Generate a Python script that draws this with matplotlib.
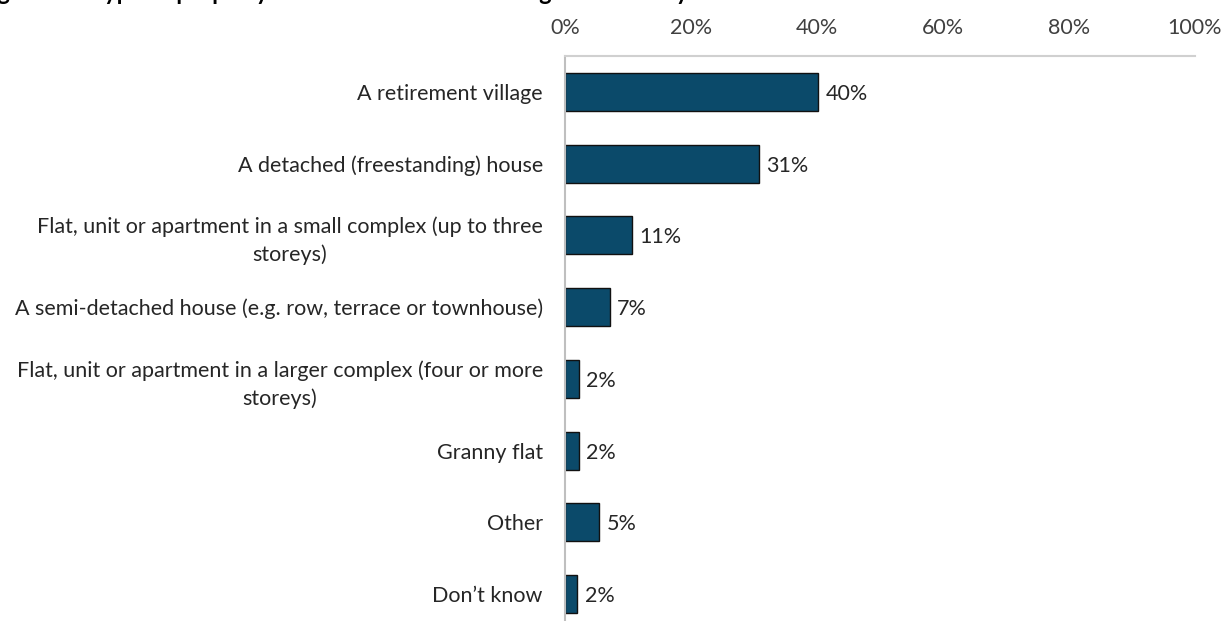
import numpy as np
import matplotlib
matplotlib.use("Agg")
import matplotlib.pyplot as plt

# survey categories (top to bottom) and share of respondents (%)
categories = [
    "A retirement village",
    "A detached (freestanding) house",
    "Flat, unit or apartment in a small complex (up to three\nstoreys)",
    "A semi-detached house (e.g. row, terrace or townhouse)",
    "Flat, unit or apartment in a larger complex (four or more\nstoreys)",
    "Granny flat",
    "Other",
    "Don\u2019t know",
]
values = [40.2, 30.8, 10.6, 7.1, 2.2, 2.2, 5.4, 1.9]
value_labels = ["40%", "31%", "11%", "7%", "2%", "2%", "5%", "2%"]
x_ticks = [0, 20, 40, 60, 80, 100]
x_tick_labels = ["0%", "20%", "40%", "60%", "80%", "100%"]
title = "Figure 10: Type of property most considered if moving in the next year"

plt.rcParams["font.family"] = ["Lato", "DejaVu Sans"]

W, H = 1223, 621
fig = plt.figure(figsize=(W / 100, H / 100), dpi=100)

# axes box in pixel terms: 0% at x=565, 100% at x=1195, top line at y=56
left, right, top, bottom = 565, 1195, 56, 630
ax = fig.add_axes([left / W, (H - bottom) / H, (right - left) / W, (bottom - top) / H])

y = np.arange(len(categories))
ax.barh(y, values, height=0.53, color="#0B4A6A", edgecolor="#111111", linewidth=1)

for yi, v, lab in zip(y, values, value_labels):
    ax.text(v + 1.2, yi, lab, va="center_baseline", ha="left", fontsize=15.5, color="#262626")

ax.set_xlim(0, 100)
ax.set_ylim(len(categories) - 0.5, -0.5)
ax.set_yticks(y)
ax.set_yticklabels(categories, fontsize=15.5, color="#262626")
for t in ax.get_yticklabels():
    t.set_multialignment("center")
    t.set_linespacing(1.45)
ax.xaxis.tick_top()
ax.set_xticks(x_ticks)
ax.set_xticklabels(x_tick_labels, fontsize=15.5, color="#404040")
ax.tick_params(axis="both", length=0)
ax.tick_params(axis="x", pad=13)
ax.tick_params(axis="y", pad=16)

for side in ["right", "bottom"]:
    ax.spines[side].set_visible(False)
ax.spines["left"].set_color("#BFBFBF")
ax.spines["top"].set_color("#D0D0D0")
ax.spines["left"].set_linewidth(1.5)
ax.spines["top"].set_linewidth(1.5)

# title sits mostly above the cropped top edge
fig.text(-22 / W, 1.0, title, fontsize=17, fontweight="bold", color="black",
         ha="left", va="baseline")

fig.savefig("out.png", dpi=100)
